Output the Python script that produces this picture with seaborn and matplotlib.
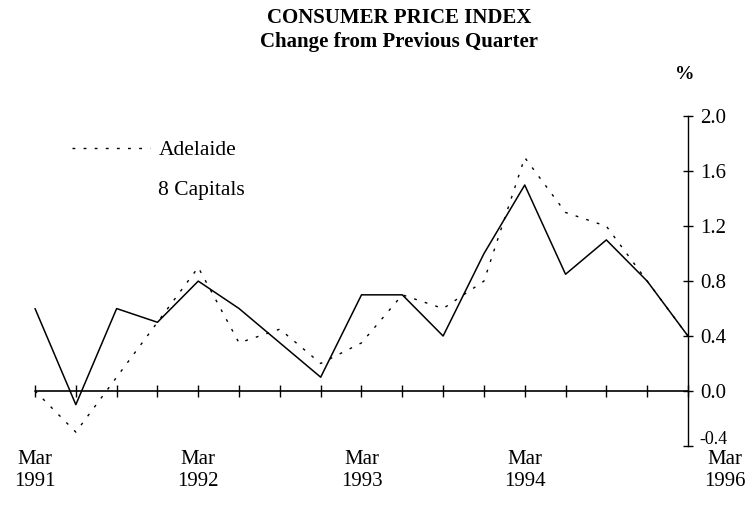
import numpy as np
import pandas as pd
import matplotlib
matplotlib.use("Agg")
import matplotlib.pyplot as plt
from matplotlib.lines import Line2D
from matplotlib.transforms import ScaledTranslation
import seaborn as sns

# quarterly % change, Mar 1991 .. Mar 1995
quarters = list(range(17))
capitals = [0.6, -0.1, 0.6, 0.5, 0.8, 0.6, 0.35, 0.1, 0.7, 0.7, 0.4, 1.0, 1.5, 0.85, 1.1, 0.8, 0.4]
adelaide = [0.0, -0.3, 0.1, 0.5, 0.9, 0.35, 0.45, 0.2, 0.35, 0.7, 0.6, 0.8, 1.7, 1.3, 1.2, 0.8, 0.4]

xtick_pos = [0, 4, 8, 12, 16.9]
xtick_labels = ["Mar\n1991", "Mar\n1992", "Mar\n1993", "Mar\n1994", "Mar\n1996"]
ytick_vals = [-0.4, 0.0, 0.4, 0.8, 1.2, 1.6, 2.0]
ytick_labels = ["-0.4", "0.0", "0.4", "0.8", "1.2", "1.6", "2.0"]

df = pd.DataFrame({"quarter": quarters, "capitals": capitals, "adelaide": adelaide})

sns.set_theme(style="white", rc={"text.color": "black", "axes.labelcolor": "black",
                                 "xtick.color": "black", "ytick.color": "black"})
plt.rcParams["font.family"] = ["Liberation Serif", "DejaVu Serif"]

fig = plt.figure(figsize=(7.46, 5.19), dpi=100)
ax = fig.add_axes([0.0196, 0.1357, 0.9792, 0.6665])

sns.lineplot(data=df, x="quarter", y="capitals", ax=ax, color="black", lw=1.1)
sns.lineplot(data=df, x="quarter", y="adelaide", ax=ax, color="black", lw=1.0,
             linestyle=(0, (2, 6)))

# zero line with quarter ticks
ax.plot([quarters[0], quarters[-1]], [0, 0], color="black", lw=1.2)
ax.vlines(quarters, -0.045, 0.045, color="black", lw=1.0)

ax.set_xlim(-0.5, 17.4)
ax.set_ylim(-0.42, 2.1)

for s in ["top", "left", "bottom"]:
    ax.spines[s].set_visible(False)
ax.spines["right"].set_position(("data", 16))
ax.spines["right"].set_bounds(-0.4, 2.0)
ax.spines["right"].set_color("black")
ax.spines["right"].set_linewidth(1.0)

ax.yaxis.tick_right()
ax.set_yticks(ytick_vals, ytick_labels)
ax.tick_params(axis="y", direction="inout", length=7, width=1.0, pad=5,
               labelsize=15, colors="black")
ax.set_xticks(xtick_pos, xtick_labels)
ax.tick_params(axis="x", length=0, pad=1, labelsize=15, colors="black")
for t in ax.get_xticklabels():
    t.set_linespacing(1.2)

# bottom value label sits a little higher and smaller, as in the original
low = ax.get_yticklabels()[0]
low.set_fontsize(13)
low.set_transform(low.get_transform() + ScaledTranslation(0, 6 / 72, fig.dpi_scale_trans))

ax.yaxis.set_label_position("right")
ax.set_ylabel("%", rotation=0, fontsize=14, fontweight="bold")
ax.yaxis.set_label_coords(0.918, 1.105)
ax.set_xlabel("")

handles = [Line2D([], [], color="black", lw=1.0, linestyle=(0, (2, 6))),
           Line2D([], [], color="none")]
ax.legend(handles, ["Adelaide", "8 Capitals"], loc="upper left",
          bbox_to_anchor=(0.097, 0.73), bbox_transform=fig.transFigure,
          frameon=False, fontsize=15.5, handlelength=3.6, handletextpad=0.4,
          labelspacing=0.9, borderpad=0, borderaxespad=0, labelcolor="black")

fig.suptitle("CONSUMER PRICE INDEX\nChange from Previous Quarter", x=0.535, y=0.985,
             va="top", fontsize=15, fontweight="bold", linespacing=1.25, color="black")

fig.savefig("out.png", dpi=100)
